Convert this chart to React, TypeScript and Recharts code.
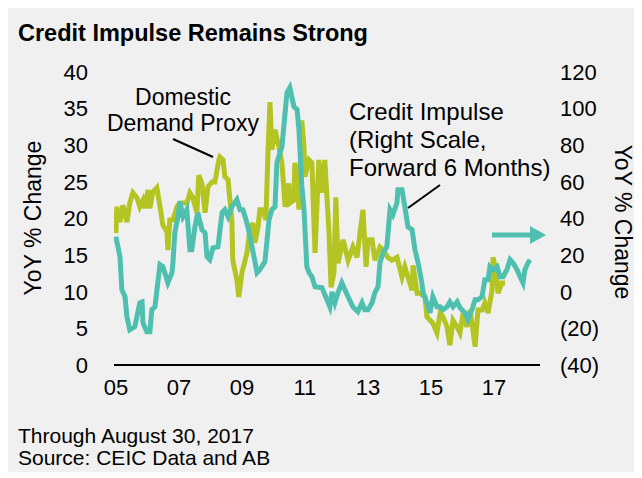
import React from 'react'
import { LineChart, Line, XAxis, YAxis } from 'recharts'

// Domestic Demand Proxy (left scale, YoY %)
const demandYears = [
  2005.0, 2005.03, 2005.13, 2005.22, 2005.29, 2005.35, 2005.44, 2005.54, 2005.67, 2005.76, 2005.86, 2005.92,
  2006.02, 2006.08, 2006.17, 2006.3, 2006.4, 2006.49, 2006.62, 2006.65, 2006.71, 2006.81, 2006.94,
  2007.03, 2007.13, 2007.25, 2007.35, 2007.44, 2007.57, 2007.63, 2007.73, 2007.83, 2007.92,
  2008.05, 2008.14, 2008.21, 2008.27, 2008.3, 2008.4, 2008.46, 2008.56, 2008.62, 2008.68, 2008.71, 2008.84, 2008.9,
  2009.0, 2009.16, 2009.25, 2009.35, 2009.41, 2009.51, 2009.57, 2009.67, 2009.76, 2009.83, 2009.89, 2009.95,
  2010.05, 2010.17, 2010.27, 2010.37, 2010.49, 2010.52, 2010.65, 2010.68, 2010.75, 2010.81, 2010.9, 2010.97,
  2011.0, 2011.13, 2011.22, 2011.32, 2011.44, 2011.54, 2011.63, 2011.76, 2011.83, 2011.92, 2011.98,
  2012.05, 2012.21, 2012.37, 2012.52, 2012.65, 2012.84, 2012.94,
  2013.0, 2013.13, 2013.22, 2013.38, 2013.48, 2013.63, 2013.76, 2013.92,
  2014.08, 2014.17, 2014.27, 2014.4, 2014.43, 2014.56, 2014.65, 2014.81, 2014.87, 2014.97,
  2015.06, 2015.19, 2015.29, 2015.38, 2015.51, 2015.6, 2015.7, 2015.83, 2015.92,
  2016.02, 2016.14, 2016.24, 2016.33, 2016.4, 2016.49, 2016.62, 2016.71, 2016.81, 2016.94, 2016.97,
  2017.06, 2017.13, 2017.25, 2017.35,
]
const demandValues = [
  18.0, 21.6, 19.5, 21.8, 20.8, 19.5, 22.1, 23.5, 22.8, 21.6, 22.5, 21.4,
  23.9, 21.4, 23.6, 24.2, 21.6, 19.1, 18.2, 15.7, 19.8, 19.8, 21.6,
  22.1, 22.1, 22.1, 23.5, 22.9, 20.8, 25.9, 24.8, 20.8, 24.3,
  25.0, 25.0, 26.6, 28.0, 28.4, 28.0, 25.7, 25.3, 22.5, 19.8, 14.3, 11.6, 9.3,
  12.6, 15.3, 18.4, 19.4, 16.7, 18.8, 21.2, 21.2, 19.8, 29.4, 35.9, 29.4,
  32.1, 29.8, 27.6, 21.6, 24.8, 22.1, 22.5, 27.6, 25.3, 21.2, 33.4, 29.8,
  25.7, 28.0, 27.6, 15.3, 28.0, 23.5, 28.0, 18.4, 10.6, 12.6, 22.9,
  13.9, 17.1, 14.3, 16.1, 14.7, 21.2, 13.4,
  17.1, 17.1, 14.3, 16.1, 15.7, 14.7, 14.3, 14.7,
  12.0, 13.4, 12.0, 10.2, 13.6, 9.8, 9.8, 9.3, 6.6, 6.1,
  5.7, 4.4, 7.1, 6.6, 5.2, 2.7, 6.1, 5.2, 4.4,
  7.1, 5.2, 7.5, 4.8, 2.5, 7.5, 7.5, 8.5, 7.1, 10.2, 14.7,
  13.0, 9.8, 11.2, 11.2,
]

// Credit Impulse (right scale, forward 6 months, YoY %)
const impulseYears = [
  2005.0, 2005.13, 2005.19, 2005.29, 2005.35, 2005.44, 2005.6, 2005.76, 2005.83, 2005.86, 2005.98,
  2006.08, 2006.14, 2006.24, 2006.33, 2006.4, 2006.49, 2006.62, 2006.65, 2006.78, 2006.81, 2006.87, 2006.97,
  2007.03, 2007.13, 2007.25, 2007.35, 2007.41, 2007.51, 2007.6, 2007.73, 2007.83, 2007.89, 2007.98,
  2008.08, 2008.24, 2008.37, 2008.46, 2008.56, 2008.68, 2008.84, 2008.94,
  2009.03, 2009.1, 2009.19, 2009.32, 2009.48, 2009.57, 2009.63, 2009.73, 2009.86, 2009.95,
  2010.05, 2010.11, 2010.17, 2010.27, 2010.37, 2010.43, 2010.52, 2010.65, 2010.75, 2010.81, 2010.9, 2010.97,
  2011.06, 2011.13, 2011.22, 2011.32, 2011.54, 2011.7, 2011.79, 2011.86, 2011.95,
  2012.05, 2012.17, 2012.27, 2012.37, 2012.52, 2012.68, 2012.81, 2012.9,
  2013.0, 2013.13, 2013.22, 2013.32, 2013.38, 2013.48, 2013.6, 2013.7, 2013.79, 2013.92, 2013.95,
  2014.08, 2014.17, 2014.27, 2014.4, 2014.49, 2014.59, 2014.71, 2014.75, 2014.87, 2014.97,
  2015.06, 2015.19, 2015.29, 2015.38, 2015.51, 2015.6, 2015.7, 2015.83, 2015.92,
  2016.08, 2016.17, 2016.3, 2016.4, 2016.49, 2016.62, 2016.71, 2016.81, 2016.87, 2016.97,
  2017.1, 2017.19, 2017.29, 2017.41, 2017.51, 2017.6, 2017.73, 2017.83, 2017.92, 2017.98,
  2018.08, 2018.14,
]
const impulseValues = [
  30.1, 19.1, 1.1, -2.7, -13.7, -20.8, -19.1, -6.0, -5.5, -16.9, -21.9,
  -21.9, -9.8, -8.2, 4.9, 14.8, 13.7, 6.6, 4.9, 10.4, 15.8, 32.2, 41.0,
  49.2, 41.0, 44.8, 23.0, 23.0, 35.5, 43.2, 33.9, 32.2, 19.1, 17.5,
  24.0, 24.6, 43.2, 44.8, 41.0, 46.4, 50.3, 44.8,
  44.8, 41.0, 35.5, 24.6, 10.4, 12.0, 13.7, 16.4, 39.3, 44.8,
  46.4, 70.5, 73.8, 79.2, 97.8, 108.7, 111.5, 101.1, 99.5, 88.5, 57.9, 44.8,
  13.7, 10.4, 8.2, 2.7, 2.2, -4.4, -8.2, 0.0, -6.0,
  -0.5, 4.9, 1.1, -2.7, -8.2, -10.9, -6.0, -9.8,
  -9.8, -6.0, -0.5, 2.7, 15.8, 21.3, 24.6, 44.8, 42.1, 48.6, 55.7,
  55.7, 46.4, 35.5, 33.9, 23.0, 15.8, 4.9, -0.5, -6.0, -11.5,
  -2.7, -8.2, -8.2, -9.8, -8.2, -5.5, -8.2, -5.5, -8.7,
  -11.5, -15.3, -9.8, -4.4, -4.4, -2.7, 6.6, 6.6, 13.7, 12.0,
  13.7, 8.2, 8.2, 12.0, 17.5, 15.8, 12.0, 8.2, 4.9, 12.0,
  15.8, 17.5,
]

const xTicks = [2005, 2007, 2009, 2011, 2013, 2015, 2017]
const leftTicks = [0, 5, 10, 15, 20, 25, 30, 35, 40]
const rightTicks = [-40, -20, 0, 20, 40, 60, 80, 100, 120]

const demandData = demandYears.map((t, i) => ({ t, v: demandValues[i] }))
const impulseData = impulseYears.map((t, i) => ({ t, v: impulseValues[i] }))

const FONT = '"Liberation Sans", Arial, sans-serif'
const YELLOW = '#b3c423'
const TEAL = '#4fc0b0'

const fmtRight = (v: number) => (v < 0 ? `(${Math.abs(v)})` : String(v))

export default function App() {
  const tick = { fontSize: 22, fill: '#000', fontFamily: FONT }
  return (
    <div style={{ position: 'relative', width: 634, height: 464, background: '#f0f0f0', fontFamily: FONT, color: '#000' }}>
      <style>{'body{overflow:hidden}'}</style>
      <div style={{ position: 'absolute', left: 10, top: 13, fontSize: 23.5, fontWeight: 'bold', lineHeight: '24px' }}>
        Credit Impulse Remains Strong
      </div>
      <LineChart
        width={634}
        height={464}
        margin={{ top: 64, right: 42, bottom: 77, left: 46 }}
        style={{ position: 'absolute', left: 0, top: 0 }}
      >
        <XAxis
          dataKey="t"
          type="number"
          domain={[2004.94, 2018.46]}
          ticks={xTicks}
          tickFormatter={(v: number) => String(v).slice(2)}
          allowDataOverflow
          tickLine={false}
          tickMargin={8}
          height={30}
          axisLine={{ stroke: '#000', strokeWidth: 2 }}
          tick={tick}
        />
        <YAxis
          yAxisId="left"
          domain={[0, 40]}
          ticks={leftTicks}
          width={60}
          axisLine={false}
          tickLine={false}
          tickMargin={20}
          tick={tick}
        />
        <YAxis
          yAxisId="right"
          orientation="right"
          domain={[-40, 120]}
          ticks={rightTicks}
          tickFormatter={fmtRight}
          width={60}
          axisLine={false}
          tickLine={false}
          tickMargin={14}
          tick={{ ...tick, textAnchor: 'start' }}
        />
        <Line
          yAxisId="left"
          data={demandData}
          dataKey="v"
          stroke={YELLOW}
          strokeWidth={5}
          dot={false}
          isAnimationActive={false}
        />
        <Line
          yAxisId="right"
          data={impulseData}
          dataKey="v"
          stroke={TEAL}
          strokeWidth={5}
          dot={false}
          isAnimationActive={false}
        />
      </LineChart>

      {/* leader lines and arrow */}
      <svg width={634} height={464} style={{ position: 'absolute', left: 0, top: 0, pointerEvents: 'none' }}>
        <line x1={165} y1={131} x2={205} y2={149} stroke="#000" strokeWidth={2} />
        <line x1={432} y1={177} x2={400} y2={200} stroke="#000" strokeWidth={2} />
        <line x1={484} y1={227} x2={524} y2={227} stroke={TEAL} strokeWidth={5} />
        <polygon points="522,218 538,227 522,236" fill={TEAL} />
      </svg>

      <div style={{ position: 'absolute', left: 75, top: 76, width: 200, textAlign: 'center', fontSize: 23, lineHeight: '26px' }}>
        Domestic
        <br />
        Demand Proxy
      </div>
      <div style={{ position: 'absolute', left: 341, top: 90, fontSize: 24, lineHeight: '28px', whiteSpace: 'nowrap' }}>
        Credit Impulse
        <br />
        (Right Scale,
        <br />
        Forward 6 Months)
      </div>

      <div
        style={{
          position: 'absolute', left: 25 - 100, top: 210 - 13, width: 200, textAlign: 'center',
          fontSize: 23, lineHeight: '26px', transform: 'rotate(-90deg)',
        }}
      >
        YoY % Change
      </div>
      <div
        style={{
          position: 'absolute', left: 615 - 100, top: 214 - 13, width: 200, textAlign: 'center',
          fontSize: 23, lineHeight: '26px', transform: 'rotate(90deg)',
        }}
      >
        YoY % Change
      </div>

      <div style={{ position: 'absolute', left: 10, top: 417, fontSize: 21, lineHeight: '22px' }}>
        Through August 30, 2017
        <br />
        Source: CEIC Data and AB
      </div>
    </div>
  )
}
